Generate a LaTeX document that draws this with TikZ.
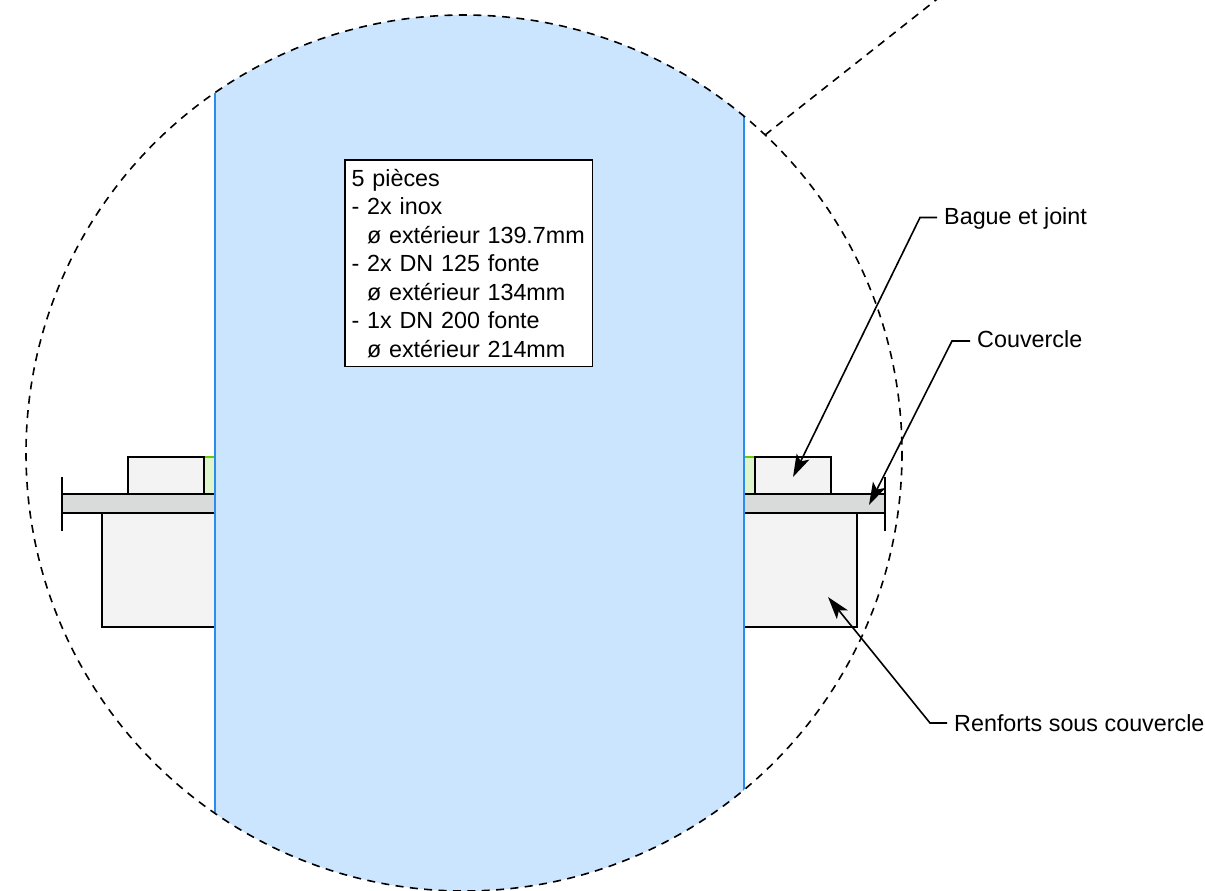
\documentclass[tikz,border=0pt]{standalone}
\usepackage{fontspec}
\setmainfont{Liberation Sans}
\usetikzlibrary{arrows.meta}
\definecolor{pipefill}{HTML}{CCE5FF}
\definecolor{pipeedge}{HTML}{2A8CEB}
\definecolor{partfill}{HTML}{F3F3F3}
\definecolor{platefill}{HTML}{D9DBDB}
\definecolor{jointfill}{HTML}{E1F5CD}
\definecolor{jointedge}{HTML}{66CC00}
\tikzset{
  part/.style={draw=black,line width=1.2pt,fill=partfill},
  plate/.style={draw=black,line width=1.2pt,fill=platefill},
  jointpart/.style={fill=jointfill},
  jointtop/.style={draw=jointedge,line width=1.2pt},
  pipeside/.style={draw=pipeedge,line width=1.6pt},
  tick/.style={draw=black,line width=1.2pt},
  outline/.style={draw=black,line width=1.2pt,dash pattern=on 6pt off 4.8pt},
  lead/.style={draw=black,line width=1.2pt,-{Stealth[length=17pt,width=10.5pt,inset=4pt]}},
  lbl/.style={anchor=west,inner ysep=0pt,inner xsep=5.2pt,text height=13.5pt,text depth=3.5pt,
    font=\fontsize{17.5}{20}\selectfont},
  infobox/.style={draw=black,line width=1.2pt,fill=white,anchor=north west,align=left,
    inner xsep=5pt,inner ysep=2.5pt,text width=175.5pt,minimum height=155pt,
    font=\fontsize{17.5}{21.4}\selectfont}
}
\begin{document}
\begin{tikzpicture}[x=0.75pt,y=-0.75pt]
\useasboundingbox (0,0) rectangle (1205,891);
\fill[white] (0,0) rectangle (1205,891);
\begin{scope}
  \clip (0,0) rectangle (1205,891);
  % left side parts
  \fill[jointpart] (204,457) rectangle (215,494);
  \draw[jointtop] (204,457) -- (215,457);
  \draw[part] (128,457) rectangle (204,494);
  \draw[part] (102,513) rectangle (215,627);
  \draw[plate] (62,494) rectangle (215,513);
  \draw[tick] (62,477) -- (62,531);
  % right side parts
  \fill[jointpart] (744,457) rectangle (755,494);
  \draw[jointtop] (744,457) -- (755,457);
  \draw[part] (755,457) rectangle (831,494);
  \draw[part] (744,513) rectangle (857,627);
  \draw[plate] (744,494) rectangle (885,513);
  \draw[tick] (885,477) -- (885,531);
  % pipe, cut by the detail circle
  \begin{scope}
    \clip (464,453) circle [radius=438];
    \fill[pipefill] (215,0) rectangle (744,891);
    \draw[pipeside] (215,0) -- (215,891);
    \draw[pipeside] (744,0) -- (744,891);
  \end{scope}
  \draw[outline] (464,453) circle [radius=438];
  \coordinate (detailfoot) at (765,135);
  \coordinate (detailhead) at (955,-15);
  \draw[outline] (detailfoot) -- (detailhead);

  \node[infobox] (info) at (344.2,159.2) {5 pièces\\- 2x inox\\\hspace*{11.5pt}ø extérieur 139.7mm\\- 2x DN 125 fonte\\\hspace*{11.5pt}ø extérieur 134mm\\- 1x DN 200 fonte\\\hspace*{11.5pt}ø extérieur 214mm};

  \node[lbl] (bague) at (937,217.5) {Bague et joint};
  \node[lbl] (couv) at (970,341) {Couvercle};
  \node[lbl,text depth=1pt] (renf) at (947,723) {Renforts sous couvercle};
  \coordinate (bagueknee) at (920,217.5);
  \coordinate (couvknee) at (952,341);
  \coordinate (renfknee) at (930,723);
  \coordinate (baguetip) at (793,477);
  \coordinate (couvtip) at (869,505);
  \coordinate (renftip) at (828,597);
  \draw[lead] (bague.west) -- (bagueknee) -- (baguetip);
  \draw[lead] (couv.west) -- (couvknee) -- (couvtip);
  \draw[lead] (renf.west) -- (renfknee) -- (renftip);
\end{scope}
\end{tikzpicture}
\end{document}
